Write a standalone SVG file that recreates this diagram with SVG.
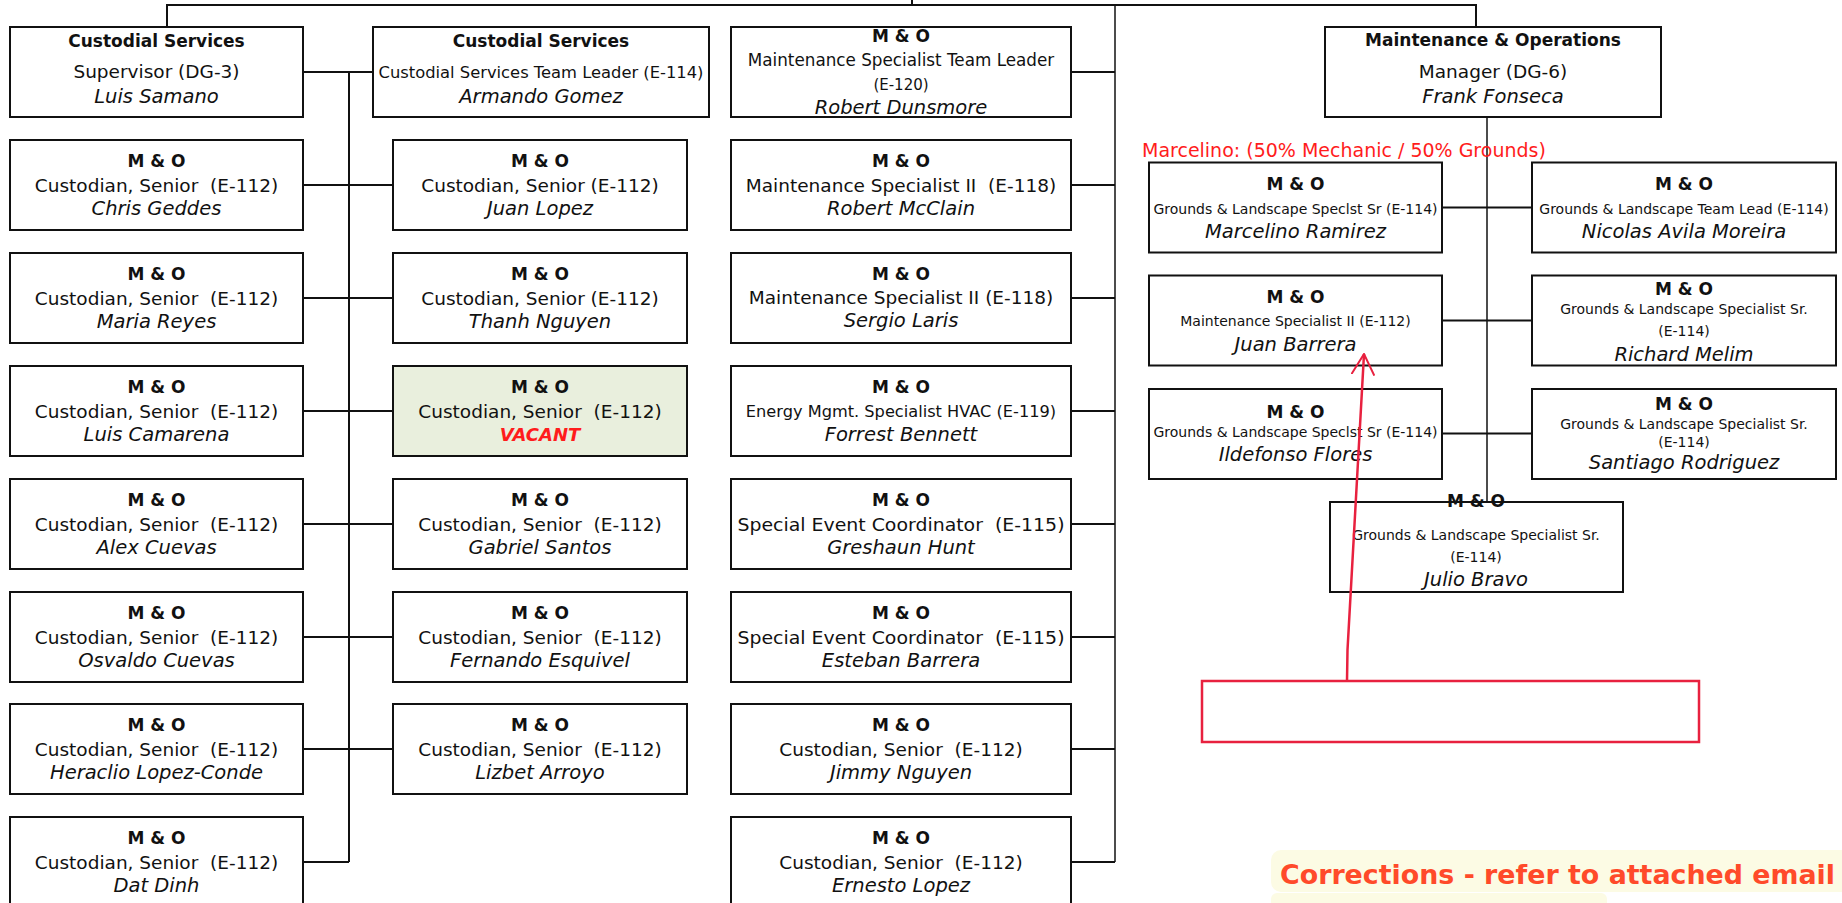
<svg xmlns="http://www.w3.org/2000/svg" width="1842" height="903" viewBox="0 0 1842 903">
<style>
text{font-family:"DejaVu Sans",sans-serif;fill:#111;text-anchor:middle}
.box{fill:#fff;stroke:#111;stroke-width:2}
.vac{fill:#e9efdd}
.t{font-weight:bold;font-size:17px}
.r{font-size:18.5px}
.m{font-size:16.2px}
.s{font-size:14px}
.n{font-style:italic;font-size:19.5px}
.red{fill:#ff1c1c}
.ln{stroke:#111;stroke-width:2;fill:none}
.thin{stroke:#111;stroke-width:1.5;fill:none}
.rl{stroke:#e8213f;stroke-width:2.5;fill:none}
</style>
<defs>
<marker id="ah" viewBox="0 0 22 24" refX="21" refY="12" markerWidth="22" markerHeight="24" markerUnits="userSpaceOnUse" orient="auto">
<path d="M0,0.5 L21,12 L0,23.5" fill="none" stroke="#e8213f" stroke-width="2"/>
</marker>
</defs>

<g id="connectors">
<path class="ln" d="M167,27 V5 H1476 V27"/>
<path class="ln" d="M912,0 V5"/>
<path class="thin" d="M1115,5 V862"/>
<path class="ln" d="M1071,72 H1115 M1071,185 H1115 M1071,298 H1115 M1071,411 H1115 M1071,524 H1115 M1071,637 H1115 M1069,749 H1115 M1071,862 H1115"/>
<path class="ln" d="M303,72 H373 M349,72 V862 M303,185 H393 M303,298 H393 M303,411 H393 M303,524 H393 M303,637 H393 M303,749 H393 M303,862 H349"/>
<path class="thin" d="M1487,117 V502"/>
<path class="ln" d="M1442,207.5 H1532 M1442,320.5 H1532 M1442,433.5 H1532"/>
</g>

<g id="n-supervisor"><rect class="box" x="10" y="27" width="293" height="90"/>
<text class="t" x="156.5" y="46.5">Custodial Services</text>
<text class="r" x="156.5" y="78">Supervisor (DG-3)</text>
<text class="n" x="156.5" y="103">Luis Samano</text></g>

<g id="n-teamleader"><rect class="box" x="373" y="27" width="336" height="90"/>
<text class="t" x="541" y="46.5">Custodial Services</text>
<text x="541" y="77.5" font-size="16" textLength="325" lengthAdjust="spacingAndGlyphs">Custodial Services Team Leader (E-114)</text>
<text class="n" x="541" y="103">Armando Gomez</text></g>

<g id="n-dunsmore"><rect class="box" x="731" y="27" width="340" height="90"/>
<text class="t" x="901" y="41.5">M &amp; O</text>
<text x="901" y="66" font-size="16.8">Maintenance Specialist Team Leader</text>
<text x="901" y="90" font-size="15">(E-120)</text>
<text class="n" x="901" y="114">Robert Dunsmore</text></g>

<g id="n-manager"><rect class="box" x="1325" y="27" width="336" height="90"/>
<text class="t" x="1493" y="46">Maintenance &amp; Operations</text>
<text class="r" x="1493" y="78">Manager (DG-6)</text>
<text class="n" x="1493" y="103">Frank Fonseca</text></g>

<!-- column 1 -->
<g id="n-geddes"><rect class="box" x="10" y="140" width="293" height="90"/>
<text class="t" x="156.5" y="167">M &amp; O</text><text class="r" x="156.5" y="192" xml:space="preserve">Custodian, Senior  (E-112)</text><text class="n" x="156.5" y="215">Chris Geddes</text></g>
<g id="n-reyes"><rect class="box" x="10" y="253" width="293" height="90"/>
<text class="t" x="156.5" y="280">M &amp; O</text><text class="r" x="156.5" y="305" xml:space="preserve">Custodian, Senior  (E-112)</text><text class="n" x="156.5" y="328">Maria Reyes</text></g>
<g id="n-camarena"><rect class="box" x="10" y="366" width="293" height="90"/>
<text class="t" x="156.5" y="393">M &amp; O</text><text class="r" x="156.5" y="418" xml:space="preserve">Custodian, Senior  (E-112)</text><text class="n" x="156.5" y="441">Luis Camarena</text></g>
<g id="n-acuevas"><rect class="box" x="10" y="479" width="293" height="90"/>
<text class="t" x="156.5" y="506">M &amp; O</text><text class="r" x="156.5" y="531" xml:space="preserve">Custodian, Senior  (E-112)</text><text class="n" x="156.5" y="554">Alex Cuevas</text></g>
<g id="n-ocuevas"><rect class="box" x="10" y="592" width="293" height="90"/>
<text class="t" x="156.5" y="619">M &amp; O</text><text class="r" x="156.5" y="644" xml:space="preserve">Custodian, Senior  (E-112)</text><text class="n" x="156.5" y="667">Osvaldo Cuevas</text></g>
<g id="n-lopezconde"><rect class="box" x="10" y="704" width="293" height="90"/>
<text class="t" x="156.5" y="731">M &amp; O</text><text class="r" x="156.5" y="756" xml:space="preserve">Custodian, Senior  (E-112)</text><text class="n" x="156.5" y="779">Heraclio Lopez-Conde</text></g>
<g id="n-dinh"><rect class="box" x="10" y="817" width="293" height="90"/>
<text class="t" x="156.5" y="844">M &amp; O</text><text class="r" x="156.5" y="869" xml:space="preserve">Custodian, Senior  (E-112)</text><text class="n" x="156.5" y="892">Dat Dinh</text></g>

<!-- column 2 -->
<g id="n-jlopez"><rect class="box" x="393" y="140" width="294" height="90"/>
<text class="t" x="540" y="167">M &amp; O</text><text class="r" x="540" y="192">Custodian, Senior (E-112)</text><text class="n" x="540" y="215">Juan Lopez</text></g>
<g id="n-tnguyen"><rect class="box" x="393" y="253" width="294" height="90"/>
<text class="t" x="540" y="280">M &amp; O</text><text class="r" x="540" y="305">Custodian, Senior (E-112)</text><text class="n" x="540" y="328">Thanh Nguyen</text></g>
<g id="n-vacant"><rect class="box vac" x="393" y="366" width="294" height="90"/>
<text class="t" x="540" y="393">M &amp; O</text><text class="r" x="540" y="418" xml:space="preserve">Custodian, Senior  (E-112)</text><text class="red" x="540" y="441" font-weight="bold" font-style="italic" font-size="18">VACANT</text></g>
<g id="n-santos"><rect class="box" x="393" y="479" width="294" height="90"/>
<text class="t" x="540" y="506">M &amp; O</text><text class="r" x="540" y="531" xml:space="preserve">Custodian, Senior  (E-112)</text><text class="n" x="540" y="554">Gabriel Santos</text></g>
<g id="n-esquivel"><rect class="box" x="393" y="592" width="294" height="90"/>
<text class="t" x="540" y="619">M &amp; O</text><text class="r" x="540" y="644" xml:space="preserve">Custodian, Senior  (E-112)</text><text class="n" x="540" y="667">Fernando Esquivel</text></g>
<g id="n-arroyo"><rect class="box" x="393" y="704" width="294" height="90"/>
<text class="t" x="540" y="731">M &amp; O</text><text class="r" x="540" y="756" xml:space="preserve">Custodian, Senior  (E-112)</text><text class="n" x="540" y="779">Lizbet Arroyo</text></g>

<!-- column 3 -->
<g id="n-mcclain"><rect class="box" x="731" y="140" width="340" height="90"/>
<text class="t" x="901" y="167">M &amp; O</text><text class="r" x="901" y="192" xml:space="preserve">Maintenance Specialist II  (E-118)</text><text class="n" x="901" y="215">Robert McClain</text></g>
<g id="n-laris"><rect class="box" x="731" y="253" width="340" height="90"/>
<text class="t" x="901" y="280">M &amp; O</text><text class="r" x="901" y="304">Maintenance Specialist II (E-118)</text><text class="n" x="901" y="327">Sergio Laris</text></g>
<g id="n-bennett"><rect class="box" x="731" y="366" width="340" height="90"/>
<text class="t" x="901" y="393">M &amp; O</text><text class="m" x="901" y="417">Energy Mgmt. Specialist HVAC (E-119)</text><text class="n" x="901" y="441">Forrest Bennett</text></g>
<g id="n-hunt"><rect class="box" x="731" y="479" width="340" height="90"/>
<text class="t" x="901" y="506">M &amp; O</text><text class="r" x="901" y="531" xml:space="preserve" textLength="327" lengthAdjust="spacingAndGlyphs">Special Event Coordinator  (E-115)</text><text class="n" x="901" y="554">Greshaun Hunt</text></g>
<g id="n-ebarrera"><rect class="box" x="731" y="592" width="340" height="90"/>
<text class="t" x="901" y="619">M &amp; O</text><text class="r" x="901" y="644" xml:space="preserve" textLength="327" lengthAdjust="spacingAndGlyphs">Special Event Coordinator  (E-115)</text><text class="n" x="901" y="667">Esteban Barrera</text></g>
<g id="n-jnguyen"><rect class="box" x="731" y="704" width="340" height="90"/>
<text class="t" x="901" y="731">M &amp; O</text><text class="r" x="901" y="756" xml:space="preserve">Custodian, Senior  (E-112)</text><text class="n" x="901" y="779">Jimmy Nguyen</text></g>
<g id="n-elopez"><rect class="box" x="731" y="817" width="340" height="90"/>
<text class="t" x="901" y="844">M &amp; O</text><text class="r" x="901" y="869" xml:space="preserve">Custodian, Senior  (E-112)</text><text class="n" x="901" y="892">Ernesto Lopez</text></g>

<!-- right section -->
<text id="note-marcelino" class="red" x="1142" y="156.5" font-size="19" style="text-anchor:start">Marcelino: (50% Mechanic / 50% Grounds)</text>

<g id="n-mramirez"><rect class="box" x="1149" y="162.5" width="293" height="90"/>
<text class="t" x="1295.5" y="190">M &amp; O</text><text class="s" x="1295.5" y="214">Grounds &amp; Landscape Speclst Sr (E-114)</text><text class="n" x="1295.5" y="238">Marcelino Ramirez</text></g>
<g id="n-moreira"><rect class="box" x="1532" y="162.5" width="304" height="90"/>
<text class="t" x="1684" y="190">M &amp; O</text><text class="s" x="1684" y="214">Grounds &amp; Landscape Team Lead (E-114)</text><text class="n" x="1684" y="238">Nicolas Avila Moreira</text></g>
<g id="n-jbarrera"><rect class="box" x="1149" y="275.5" width="293" height="90"/>
<text class="t" x="1295.5" y="303">M &amp; O</text><text class="s" x="1295.5" y="326">Maintenance Specialist II (E-112)</text><text class="n" x="1295.5" y="351">Juan Barrera</text></g>
<g id="n-melim"><rect class="box" x="1532" y="275.5" width="304" height="90"/>
<text class="t" x="1684" y="294.5">M &amp; O</text><text class="s" x="1684" y="314">Grounds &amp; Landscape Specialist Sr.</text><text class="s" x="1684" y="336">(E-114)</text><text class="n" x="1684" y="361">Richard Melim</text></g>
<g id="n-flores"><rect class="box" x="1149" y="389" width="293" height="90"/>
<text class="t" x="1295.5" y="418">M &amp; O</text><text class="s" x="1295.5" y="437">Grounds &amp; Landscape Speclst Sr (E-114)</text><text class="n" x="1295.5" y="461">Ildefonso Flores</text></g>
<g id="n-rodriguez"><rect class="box" x="1532" y="389" width="304" height="90"/>
<text class="t" x="1684" y="410">M &amp; O</text><text class="s" x="1684" y="429">Grounds &amp; Landscape Specialist Sr.</text><text class="s" x="1684" y="447">(E-114)</text><text class="n" x="1684" y="469">Santiago Rodriguez</text></g>
<g id="n-bravo"><rect class="box" x="1330" y="502" width="293" height="90"/>
<text class="t" x="1476" y="507">M &amp; O</text><text class="s" x="1476" y="540">Grounds &amp; Landscape Specialist Sr.</text><text class="s" x="1476" y="562">(E-114)</text><text class="n" x="1476" y="586">Julio Bravo</text></g>

<!-- red annotation -->
<g id="annotation">
<rect class="rl" x="1202" y="681" width="497" height="61" stroke-width="3"/>
<path class="rl" d="M1347,681 L1347.5,650 L1364,354" marker-end="url(#ah)"/>
</g>

<g id="corrections">
<rect x="1271" y="850" width="590" height="42" rx="10" fill="#fcfbe4"/>
<rect x="1271" y="893" width="336" height="20" rx="6" fill="#fcfbe4"/>
<text x="1280" y="884" font-weight="bold" font-size="27" textLength="555" lengthAdjust="spacingAndGlyphs" style="text-anchor:start;fill:#ff4a2a">Corrections - refer to attached email</text>
</g>
</svg>
